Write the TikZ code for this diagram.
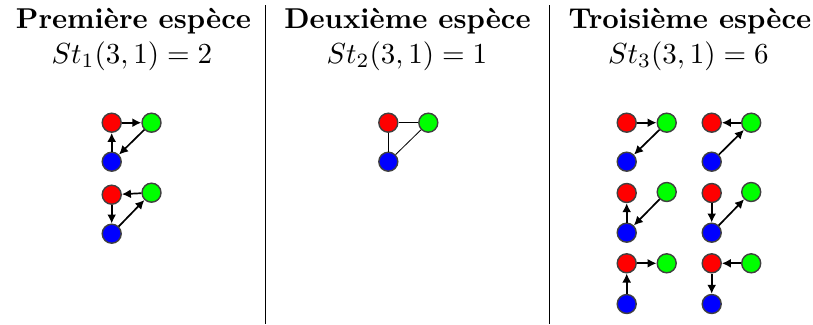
\documentclass[tikz,border=0pt]{standalone}
\usepackage{graphicx}
\usetikzlibrary{arrows.meta}
\begin{document}
\begin{tikzpicture}[x=1pt,y=-1pt,
  vtx/.style={circle,draw=black!75,line width=1.4pt,minimum size=19pt,inner sep=0pt},
  rv/.style={vtx,fill=red},
  gv/.style={vtx,fill=green},
  bv/.style={vtx,fill=blue},
  arr/.style={-{Latex[length=9pt,width=9pt]},line width=1.7pt},
  edge/.style={line width=0.8pt},
  ttl/.style={anchor=base,inner sep=0pt},
  mth/.style={anchor=base,inner sep=0pt},
  sep/.style={line width=0.9pt}]
\useasboundingbox (0,0) rectangle (813,324);
\node[ttl] (t1) at (133.5,28.5) {\scalebox{2.87}{\bfseries Première espèce}};
\node[ttl] (t2) at (407.5,28.5) {\scalebox{2.87}{\bfseries Deuxième espèce}};
\node[ttl] (t3) at (690,28.5) {\scalebox{2.87}{\bfseries Troisième espèce}};
\node[mth] (m1) at (132,63) {\scalebox{2.9}{$St_1(3,1)=2$}};
\node[mth] (m2) at (407,63) {\scalebox{2.9}{$St_2(3,1)=1$}};
\node[mth] (m3) at (688.5,63) {\scalebox{2.9}{$St_3(3,1)=6$}};
\coordinate (s1a) at (265,5); \coordinate (s1b) at (265,324);
\coordinate (s2a) at (549,5); \coordinate (s2b) at (549,324);
\draw[sep] (s1a) -- (s1b);
\draw[sep] (s2a) -- (s2b);
% panel 1
\node[rv] (a1r) at (111.7,122.7) {};
\node[gv] (a1g) at (151.5,122.7) {};
\node[bv] (a1b) at (111.7,161.7) {};
\draw[arr] (a1r) -- (a1g);
\draw[arr] (a1g) -- (a1b);
\draw[arr] (a1b) -- (a1r);
\node[rv] (a2r) at (111.7,194.7) {};
\node[gv] (a2g) at (151.5,192.7) {};
\node[bv] (a2b) at (111.7,233.7) {};
\draw[arr] (a2g) -- (a2r);
\draw[arr] (a2r) -- (a2b);
\draw[arr] (a2b) -- (a2g);
% panel 2
\node[rv] (br) at (388.3,122.7) {};
\node[gv] (bg) at (428.3,122.7) {};
\node[bv] (bb) at (388.3,161.7) {};
\draw[edge] (br) -- (bg);
\draw[edge] (br) -- (bb);
\draw[edge] (bb) -- (bg);
% panel 3
\node[rv] (c1r) at (626.7,122.7) {};
\node[gv] (c1g) at (666.7,122.7) {};
\node[bv] (c1b) at (626.7,161.7) {};
\draw[arr] (c1r) -- (c1g);
\draw[arr] (c1g) -- (c1b);
\node[rv] (c2r) at (711.7,122.7) {};
\node[gv] (c2g) at (751.2,122.7) {};
\node[bv] (c2b) at (711.7,161.7) {};
\draw[arr] (c2g) -- (c2r);
\draw[arr] (c2b) -- (c2g);
\node[rv] (c3r) at (626.7,193) {};
\node[gv] (c3g) at (666.7,192) {};
\node[bv] (c3b) at (626.7,232.7) {};
\draw[arr] (c3b) -- (c3r);
\draw[arr] (c3g) -- (c3b);
\node[rv] (c4r) at (711.7,193) {};
\node[gv] (c4g) at (751.2,192) {};
\node[bv] (c4b) at (711.7,232.7) {};
\draw[arr] (c4r) -- (c4b);
\draw[arr] (c4b) -- (c4g);
\node[rv] (c5r) at (626.7,263.3) {};
\node[gv] (c5g) at (666.7,263.3) {};
\node[bv] (c5b) at (626.7,304) {};
\draw[arr] (c5r) -- (c5g);
\draw[arr] (c5b) -- (c5r);
\node[rv] (c6r) at (711.7,263.3) {};
\node[gv] (c6g) at (751.2,263.3) {};
\node[bv] (c6b) at (711.7,304) {};
\draw[arr] (c6g) -- (c6r);
\draw[arr] (c6r) -- (c6b);
\end{tikzpicture}
\end{document}
